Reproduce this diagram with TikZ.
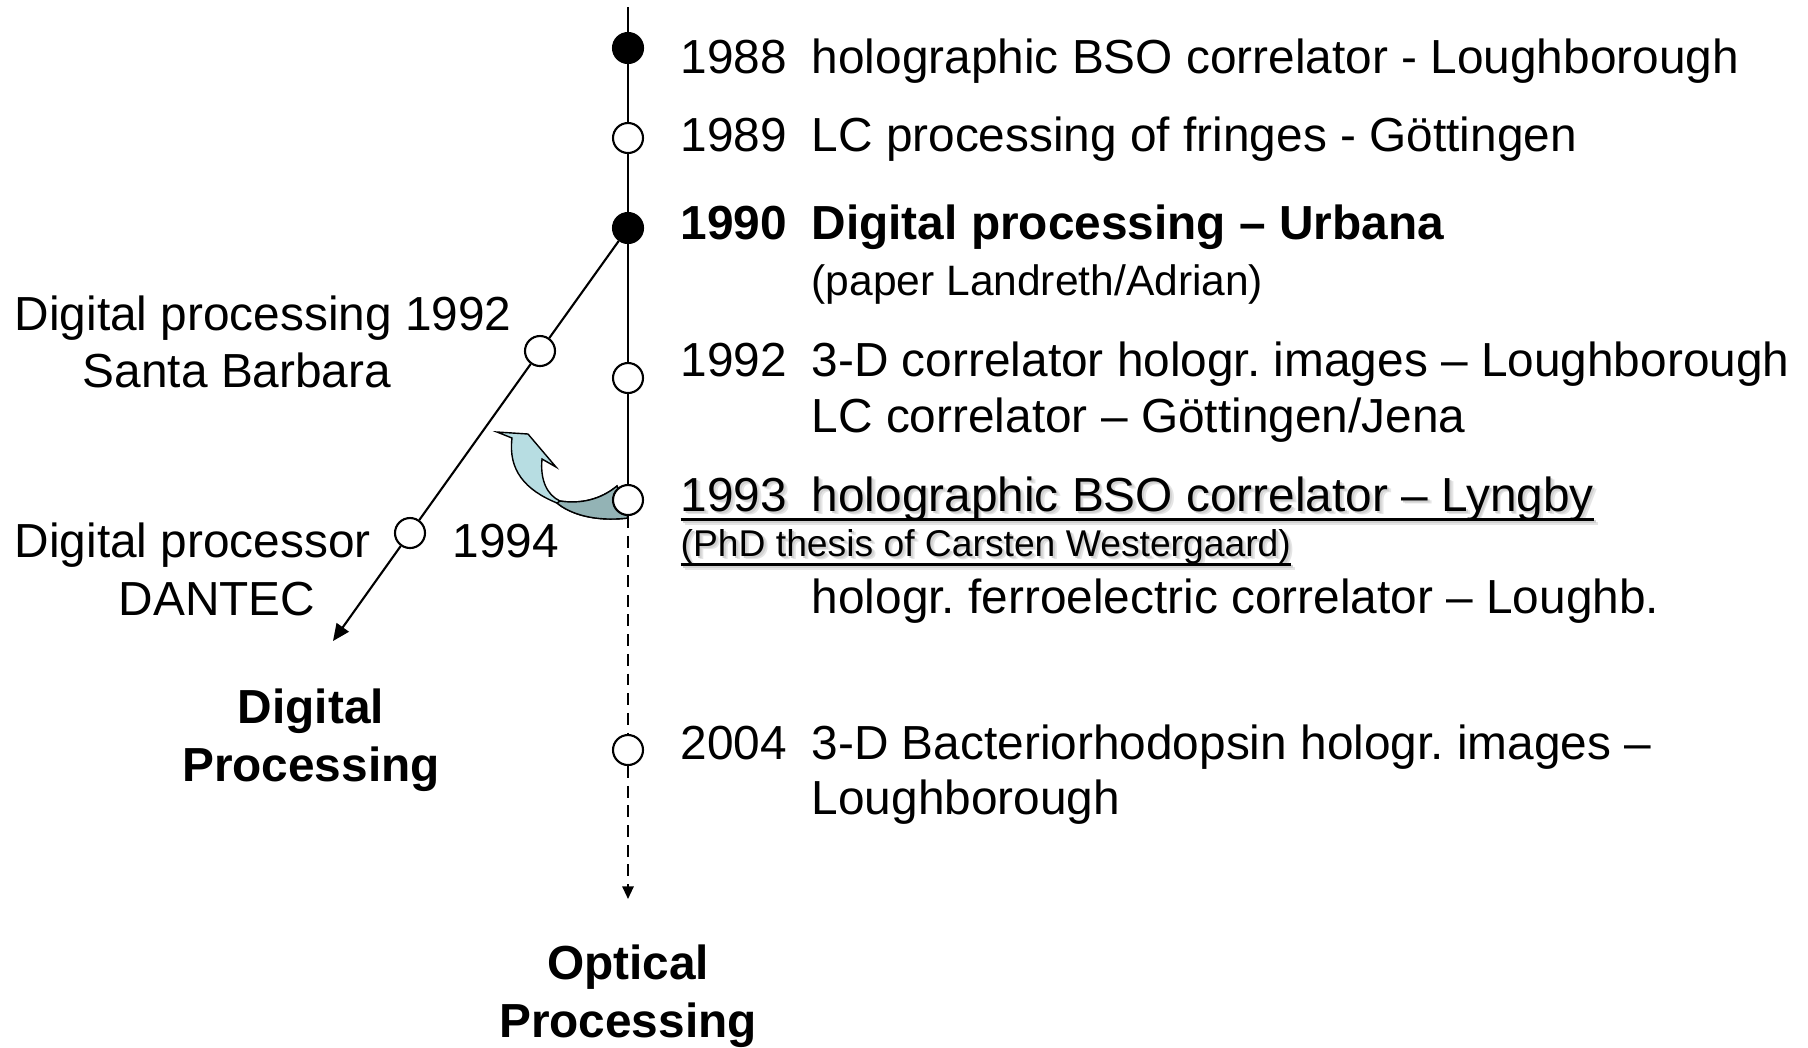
\documentclass[tikz,border=0pt]{standalone}
\usepackage{fontspec}
\setmainfont{Liberation Sans}
\usepackage{tikz}
\usetikzlibrary{positioning, arrows.meta}
\usepackage{xcolor}
\definecolor{arrowlight}{HTML}{B7DDE2}
\definecolor{arrowdark}{HTML}{93B3B5}
\frenchspacing

\newcommand{\yr}[1]{\makebox[1.31cm][l]{#1}}
\newcommand{\ulbar}[1]{\vtop{\hbox{\raisebox{0pt}[\height][0pt]{#1}}\kern1.9pt\hrule height 0.85pt}}
\newcommand{\ulshadow}[1]{\leavevmode
    \rlap{\kern1.1pt\raisebox{-1.1pt}{\color{black!10}\ulbar{#1}}}%
    \rlap{\kern0.6pt\raisebox{-0.6pt}{\color{black!18}\ulbar{#1}}}%
    \ulbar{#1}}

\begin{document}
\begin{tikzpicture}[
    txt/.style={inner sep=0pt, font=\fontsize{13.6}{16}\selectfont},
    txtsmall/.style={inner sep=0pt, font=\fontsize{12.1}{14}\selectfont},
    txttiny/.style={inner sep=0pt, font=\fontsize{10.6}{12}\selectfont},
    blackdot/.style={circle, draw, fill=black, line width=0.6pt, minimum size=0.30cm, inner sep=0pt},
    whitedot/.style={blackdot, fill=white},
    tline/.style={line width=0.6pt}]
        \useasboundingbox (0,0) rectangle (18.08,-10.47);
        % the curved arrow first, so the 1993 circle sits on top of it
        \filldraw[fill=arrowlight, line width=0.4pt]
            (4.97,-4.32) -- (5.28,-4.34) -- (5.56,-4.67) -- (5.42,-4.59)
            .. controls (5.40,-4.80) and (5.47,-4.95) .. (5.60,-5.01)
            .. controls (5.80,-5.04) and (6.00,-5.00) .. (6.17,-4.86)
            -- (6.28,-5.18)
            .. controls (5.95,-5.22) and (5.70,-5.14) .. (5.57,-5.03)
            .. controls (5.25,-4.90) and (5.08,-4.70) .. (5.12,-4.38) -- cycle;
        \filldraw[fill=arrowdark, line width=0.4pt]
            (5.60,-5.01) .. controls (5.80,-5.04) and (6.00,-5.00) .. (6.17,-4.86)
            -- (6.28,-5.18)
            .. controls (5.95,-5.22) and (5.70,-5.14) .. (5.57,-5.03) -- cycle;
        % the optical line
        \coordinate (top) at (6.28,-0.07);
        \node[blackdot] (88) at (6.28,-0.48) {};
        \node[whitedot] (89) at (6.28,-1.38) {};
        \node[blackdot] (90) at (6.28,-2.28) {};
        \node[whitedot] (92) at (6.28,-3.78) {};
        \node[whitedot] (93) at (6.28,-5.00) {};
        \node[whitedot] (04) at (6.28,-7.50) {};
        \coordinate (optend) at (6.28,-8.99);
        % the digital branch
        \node[whitedot] (b92) at (5.40,-3.51) {};
        \node[whitedot] (b94) at (4.10,-5.33) {};
        \coordinate (digend) at (3.33,-6.41);
        % Now the lines between the nodes
        \draw[tline] (top)--(88)--(89)--(90)--(92)--(93);
        \draw[tline, dash pattern=on 3.4pt off 2.2pt] (93)--(04);
        \draw[tline, dash pattern=on 3.4pt off 2.2pt, -{Triangle[length=3.6pt,width=3.2pt]}] (04)--(optend);
        \draw[tline] (90)--(b92)--(b94);
        \draw[tline, -{Triangle[length=4.8pt,width=4.2pt]}] (b94)--(digend);
        % right column
        \node[txt, anchor=base west] (t88) at (6.80,-0.73) {\yr{1988}holographic BSO correlator - Loughborough};
        \node[txt, anchor=base west] (t89) at (6.80,-1.51) {\yr{1989}LC processing of fringes - Göttingen};
        \node[txt, anchor=base west, font=\fontsize{13.6}{16}\selectfont\bfseries] (t90) at (6.80,-2.39) {\yr{1990}Digital processing – Urbana};
        \node[txtsmall, anchor=base west] (t90b) at (8.11,-2.95) {(paper Landreth/Adrian)};
        \node[txt, anchor=base west] (t92) at (6.80,-3.76) {\yr{1992}3-D correlator hologr. images – Loughborough};
        \node[txt, anchor=base west] (t92b) at (8.11,-4.32) {LC correlator – Göttingen/Jena};
        \node[txt, anchor=base west] (t93) at (6.80,-5.11) {\ulshadow{\yr{1993}holographic BSO correlator – Lyngby}};
        \node[txttiny, anchor=base west] (t93b) at (6.80,-5.56) {\ulshadow{(PhD thesis of Carsten Westergaard)}};
        \node[txt, anchor=base west] (t93c) at (8.11,-6.13) {hologr. ferroelectric correlator – Loughb.};
        \node[txt, anchor=base west] (t04) at (6.80,-7.59) {\yr{2004}3-D Bacteriorhodopsin hologr. images –};
        \node[txt, anchor=base west] (t04b) at (8.11,-8.14) {Loughborough};
        % left column
        \node[txt, anchor=base west] (tb92) at (0.14,-3.30) {Digital processing 1992};
        \node[txt, anchor=base] (tb92b) at (2.37,-3.87) {Santa Barbara};
        \node[txt, anchor=base west] (tb94) at (0.14,-5.57) {Digital processor};
        \node[txt, anchor=base west] (yb94) at (4.52,-5.57) {1994};
        \node[txt, anchor=base] (tb94b) at (2.17,-6.15) {DANTEC};
        % the two ends
        \node[txt, anchor=base, font=\fontsize{13.6}{16}\selectfont\bfseries] (dig1) at (3.11,-7.23) {Digital};
        \node[txt, anchor=base, font=\fontsize{13.6}{16}\selectfont\bfseries] (dig2) at (3.11,-7.81) {Processing};
        \node[txt, anchor=base, font=\fontsize{13.6}{16}\selectfont\bfseries] (opt1) at (6.28,-9.79) {Optical};
        \node[txt, anchor=base, font=\fontsize{13.6}{16}\selectfont\bfseries] (opt2) at (6.28,-10.37) {Processing};
\end{tikzpicture}
\end{document}
